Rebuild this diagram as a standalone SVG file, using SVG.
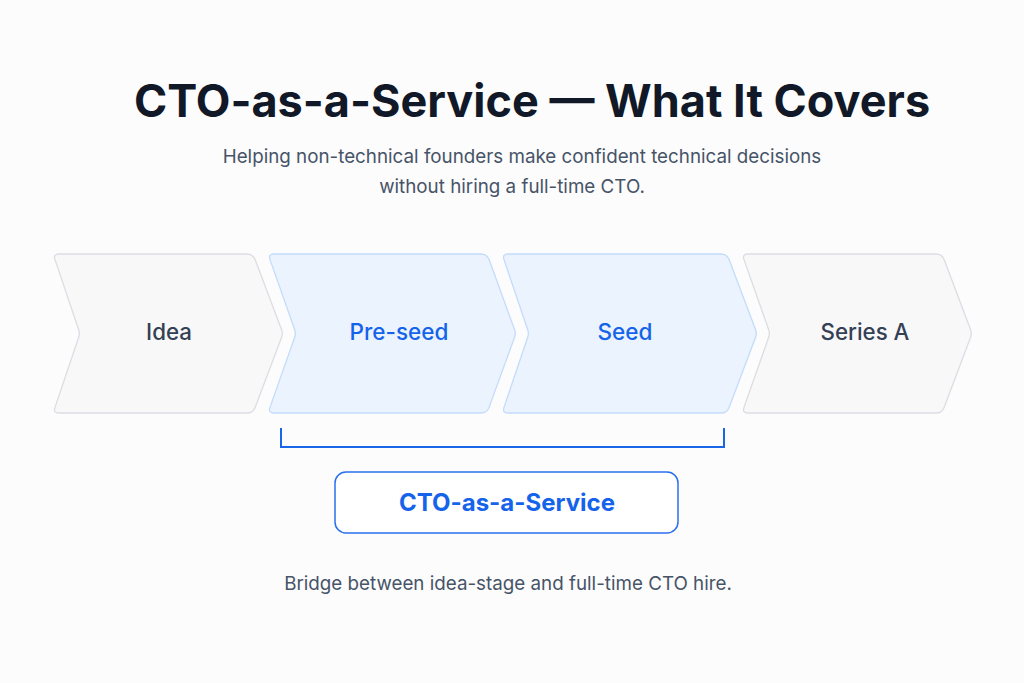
<svg xmlns="http://www.w3.org/2000/svg" width="1024" height="683" viewBox="0 0 1024 683">
<style>
.title{font-family:Inter,"Noto Sans",sans-serif;font-weight:700;font-size:45px;fill:#111827;text-anchor:middle}
.sub{font-family:Inter,"Noto Sans",sans-serif;font-size:18.8px;fill:#475467;text-anchor:middle}
.gray{fill:#f8f8f9;stroke:#dcdde3;stroke-width:1.3}
.blue{fill:#eaf3fe;stroke:#c4dbfa;stroke-width:1.3}
.lg{font-family:Inter,"Noto Sans",sans-serif;font-weight:500;font-size:22.3px;fill:#344054;text-anchor:middle}
.lb{font-family:Inter,"Noto Sans",sans-serif;font-weight:500;font-size:22.5px;fill:#1563ea;text-anchor:middle}
.btn{font-family:Inter,"Noto Sans",sans-serif;font-weight:700;font-size:24px;fill:#1563ea;text-anchor:middle}
</style>
<rect width="1024" height="683" fill="#fcfcfd"/>
<g id="header">
<text class="title" x="532" y="117">CTO-as-a-Service — What It Covers</text>
<text class="sub" x="522" y="163">Helping non-technical founders make confident technical decisions</text>
<text class="sub" x="512" y="193">without hiring a full-time CTO.</text>
</g>
<g id="idea">
<path class="gray" d="M59,254 H247 Q253,254 255.1,259.6 L281.6,329.8 Q283,333.5 281.6,337.2 L255.1,407.4 Q253,413 247,413 H59 Q53,413 55,407.4 L78.7,337.2 Q80,333.5 78.7,329.8 L55,259.6 Q53,254 59,254 Z"/>
<text class="lg" x="169" y="340">Idea</text>
</g>
<g id="preseed">
<path class="blue" d="M274,254 H481 Q487,254 489.1,259.6 L514.6,329.8 Q516,333.5 514.6,337.2 L489.1,407.4 Q487,413 481,413 H274 Q268,413 270,407.4 L294.7,337.2 Q296,333.5 294.7,329.8 L270,259.6 Q268,254 274,254 Z"/>
<text class="lb" x="399" y="340">Pre-seed</text>
</g>
<g id="seed">
<path class="blue" d="M508,254 H721 Q727,254 729.1,259.6 L755.6,329.8 Q757,333.5 755.6,337.2 L729.1,407.4 Q727,413 721,413 H508 Q502,413 504,407.4 L527.7,337.2 Q529,333.5 527.7,329.8 L504,259.6 Q502,254 508,254 Z"/>
<text class="lb" x="625" y="340">Seed</text>
</g>
<g id="seriesa">
<path class="gray" d="M748,254 H936 Q942,254 944.1,259.6 L970.6,329.8 Q972,333.5 970.6,337.2 L944.1,407.4 Q942,413 936,413 H748 Q742,413 744,407.4 L768.7,337.2 Q770,333.5 768.7,329.8 L744,259.6 Q742,254 748,254 Z"/>
<text class="lg" x="865" y="340">Series A</text>
</g>
<g id="connectors">
<path d="M281,428 V447 H724 V428" fill="none" stroke="#1a66e8" stroke-width="2"/>
</g>
<g id="cto-service">
<rect x="335" y="472" width="343" height="61" rx="11" fill="#ffffff" stroke="#2a6ff0" stroke-width="1.5"/>
<text class="btn" x="507" y="511">CTO-as-a-Service</text>
</g>
<g id="footer">
<text class="sub" x="508" y="590">Bridge between idea-stage and full-time CTO hire.</text>
</g>
</svg>
